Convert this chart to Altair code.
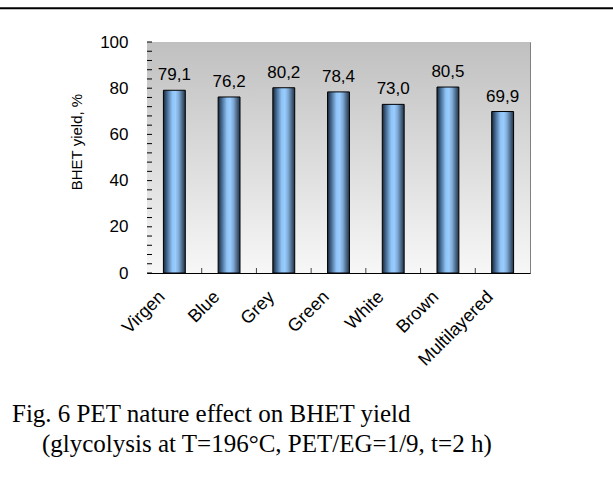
import altair as alt
import pandas as pd

categories = ["Virgen", "Blue", "Grey", "Green", "White", "Brown", "Multilayered"]
yields = [79.1, 76.2, 80.2, 78.4, 73.0, 80.5, 69.9]
value_labels = ["79,1", "76,2", "80,2", "78,4", "73,0", "80,5", "69,9"]
y_ticks = [0, 20, 40, 60, 80, 100]
minor_ticks = list(range(0, 101, 4))
y_title = ["BHET yield, %"]
caption_1 = ["Fig. 6 PET nature effect on BHET yield"]
caption_2 = ["(glycolysis at T=196°C, PET/EG=1/9, t=2 h)"]

W, H = 383, 231
L, T = 147, 42
CW, CH = 613, 481

df = pd.DataFrame({"cat": categories, "y": yields, "label": value_labels})
df_ticks = pd.DataFrame({"y": minor_ticks})
df_xt = pd.DataFrame({"cat": categories[1:]})

xs = alt.Scale(domain=categories, paddingInner=0, paddingOuter=0)
ys = alt.Scale(domain=[0, 100], nice=False)

SANS = "Liberation Sans"
SERIF = "Liberation Serif"

ax_x = alt.Axis(title=None)
ax_y = alt.Axis(values=y_ticks, title=None)

bg_grad = alt.Gradient(
    gradient="linear", x1=0, x2=0, y1=0, y2=1,
    stops=[alt.GradientStop(offset=0, color="#c0c0c0"),
           alt.GradientStop(offset=1, color="#f7f7f7")],
)
bar_grad = alt.Gradient(
    gradient="linear", x1=0, x2=1, y1=0, y2=0,
    stops=[
        alt.GradientStop(offset=0.0, color="#1a2736"),
        alt.GradientStop(offset=0.15, color="#3f6288"),
        alt.GradientStop(offset=0.4, color="#8fc2f5"),
        alt.GradientStop(offset=0.55, color="#99ccff"),
        alt.GradientStop(offset=0.7, color="#7fa9d4"),
        alt.GradientStop(offset=0.88, color="#44607e"),
        alt.GradientStop(offset=1.0, color="#243447"),
    ],
)

bg = alt.Chart(alt.Data(values=[{}])).mark_rect(color=bg_grad).encode(
    x=alt.value(0), x2=alt.value(W), y=alt.value(0), y2=alt.value(H)
)

bars = alt.Chart(df).mark_bar(
    width={"band": 0.4}, color=bar_grad, stroke="black", strokeWidth=1
).encode(
    x=alt.X("cat:N", scale=xs, sort=categories, axis=ax_x),
    y=alt.Y("y:Q", scale=ys, axis=ax_y),
)

texts = alt.Chart(df).mark_text(
    font=SANS, fontSize=17, color="black", baseline="alphabetic", dy=-10
).encode(
    x=alt.X("cat:N", scale=xs, sort=categories, axis=ax_x),
    y=alt.Y("y:Q", scale=ys, axis=ax_y),
    text="label:N",
)

yt = alt.Chart(df_ticks).mark_rule(color="black", strokeWidth=1).encode(
    y=alt.Y("y:Q", scale=ys, axis=ax_y), x=alt.value(0), x2=alt.value(5)
)

xt = alt.Chart(df_xt).mark_rule(color="#444444", strokeWidth=1).encode(
    x=alt.X("cat:N", scale=xs, sort=categories, bandPosition=0, axis=ax_x),
    y=alt.value(H - 5), y2=alt.value(H),
)

ytitle = alt.Chart(pd.DataFrame({"s": y_title})).mark_text(
    font=SANS, fontSize=15, color="black", angle=270, align="center", baseline="middle"
).encode(x=alt.value(77 - L), y=alt.value(142 - T), text="s:N")

cap1 = alt.Chart(pd.DataFrame({"s": caption_1})).mark_text(
    font=SERIF, fontSize=25, color="black", align="left", baseline="alphabetic"
).encode(x=alt.value(12 - L), y=alt.value(422 - T), text="s:N")

cap2 = alt.Chart(pd.DataFrame({"s": caption_2})).mark_text(
    font=SERIF, fontSize=25, color="black", align="left", baseline="alphabetic"
).encode(x=alt.value(42 - L), y=alt.value(452 - T), text="s:N")

topline = alt.Chart(alt.Data(values=[{}])).mark_rule(color="black", strokeWidth=2).encode(
    x=alt.value(-L), x2=alt.value(CW - L), y=alt.value(8.3 - T)
)

chart = alt.layer(bg, bars, texts, yt, xt, ytitle, cap1, cap2, topline).properties(
    width=W, height=H,
    autosize=alt.AutoSizeParams(type="none"),
    padding={"left": L, "top": T, "right": CW - L - W, "bottom": CH - T - H},
    background="white",
).configure_view(
    stroke="#808080", strokeWidth=1
).configure_axis(
    grid=False, ticks=False, domainColor="black", domainWidth=1,
    labelFont=SANS, labelColor="black",
).configure_axisX(
    labelAngle=-45, labelAlign="right", labelBaseline="middle",
    labelPadding=21, labelOffset=-12, labelFontSize=18,
).configure_axisY(
    labelPadding=19, labelFontSize=17,
)

chart.save("out.html", embed_options={"renderer": "svg", "actions": False})
